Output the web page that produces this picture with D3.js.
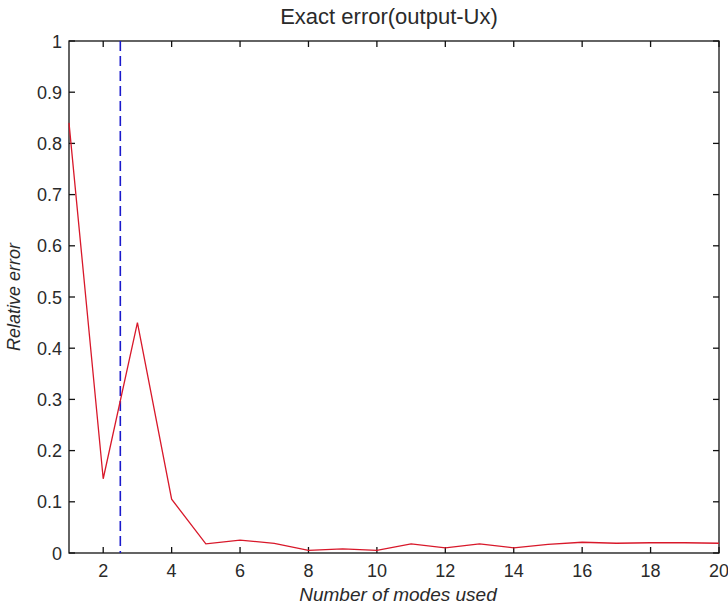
<!DOCTYPE html>
<html>
<head>
<meta charset="utf-8">
<script src="https://cdn.jsdelivr.net/npm/d3@7"></script>
<style>
    body { margin: 0; background: #fff; }
    svg text { font-family: "Liberation Sans", Arial, sans-serif; fill: #2a2a2a; }
</style>
</head>
<body>
<div id="chart"></div>
<script>
// modes used vs relative error
const modes = [1, 2, 3, 4, 5, 6, 7, 8, 9, 10, 11, 12, 13, 14, 15, 16, 17, 18, 19, 20];
const relError = [0.84, 0.145, 0.45, 0.105, 0.018, 0.025, 0.019, 0.005, 0.008, 0.005,
    0.018, 0.01, 0.018, 0.01, 0.017, 0.021, 0.019, 0.02, 0.02, 0.019];
const xTicks = [2, 4, 6, 8, 10, 12, 14, 16, 18, 20];
const yTicks = [0, 0.1, 0.2, 0.3, 0.4, 0.5, 0.6, 0.7, 0.8, 0.9, 1];
const cutoff = [2.5];

let width = 728, height = 606;
let margin = { left: 69, right: 9, top: 41, bottom: 53 };
let innerW = width - margin.left - margin.right;
let innerH = height - margin.top - margin.bottom;

let svg = d3.select("#chart").append("svg")
    .attr("width", width)
    .attr("height", height);

let x = d3.scaleLinear().domain([1, 20]).range([margin.left, margin.left + innerW]);
let y = d3.scaleLinear().domain([0, 1]).range([margin.top + innerH, margin.top]);

let tickLen = 6;

// box
svg.append("rect")
    .attr("x", margin.left).attr("y", margin.top)
    .attr("width", innerW).attr("height", innerH)
    .attr("fill", "none").attr("stroke", "#111").attr("stroke-width", 1.3);

// inward ticks on all four sides
let g = svg.append("g").attr("stroke", "#111").attr("stroke-width", 1.3);
xTicks.forEach(function (t) {
    g.append("line").attr("x1", x(t)).attr("x2", x(t))
        .attr("y1", y(0)).attr("y2", y(0) - tickLen);
    g.append("line").attr("x1", x(t)).attr("x2", x(t))
        .attr("y1", y(1)).attr("y2", y(1) + tickLen);
});
yTicks.forEach(function (t) {
    g.append("line").attr("x1", x(1)).attr("x2", x(1) + tickLen)
        .attr("y1", y(t)).attr("y2", y(t));
    g.append("line").attr("x1", x(20)).attr("x2", x(20) - tickLen)
        .attr("y1", y(t)).attr("y2", y(t));
});

// tick labels
svg.append("g").selectAll("text").data(xTicks).enter().append("text")
    .attr("x", function (d) { return x(d); })
    .attr("y", y(0) + 24)
    .attr("text-anchor", "middle")
    .attr("font-size", 18)
    .text(function (d) { return d; });

svg.append("g").selectAll("text").data(yTicks).enter().append("text")
    .attr("x", margin.left - 7)
    .attr("y", function (d) { return y(d) + 6.5; })
    .attr("text-anchor", "end")
    .attr("font-size", 18)
    .text(function (d) { return d; });

// dashed cutoff
svg.append("g").selectAll("line").data(cutoff).enter().append("line")
    .attr("x1", function (d) { return x(d); })
    .attr("x2", function (d) { return x(d); })
    .attr("y1", y(1)).attr("y2", y(0))
    .attr("stroke", "#1a1acc")
    .attr("stroke-width", 1.6)
    .attr("stroke-dasharray", "10,5");

// error curve
let line = d3.line()
    .x(function (d, i) { return x(modes[i]); })
    .y(function (d) { return y(d); });

svg.append("path")
    .attr("d", line(relError))
    .attr("fill", "none")
    .attr("stroke", "#d8182a")
    .attr("stroke-width", 1.3);

// title and axis labels
svg.append("text")
    .attr("x", 389).attr("y", 24)
    .attr("text-anchor", "middle")
    .attr("font-size", 22)
    .text("Exact error(output-Ux)");

svg.append("text")
    .attr("x", 398).attr("y", 601)
    .attr("text-anchor", "middle")
    .attr("font-size", 19)
    .attr("font-style", "italic")
    .text("Number of modes used");

svg.append("text")
    .attr("transform", "translate(20," + (margin.top + innerH / 2) + ") rotate(-90)")
    .attr("text-anchor", "middle")
    .attr("font-size", 18)
    .attr("font-style", "italic")
    .text("Relative error");
</script>
</body>
</html>
